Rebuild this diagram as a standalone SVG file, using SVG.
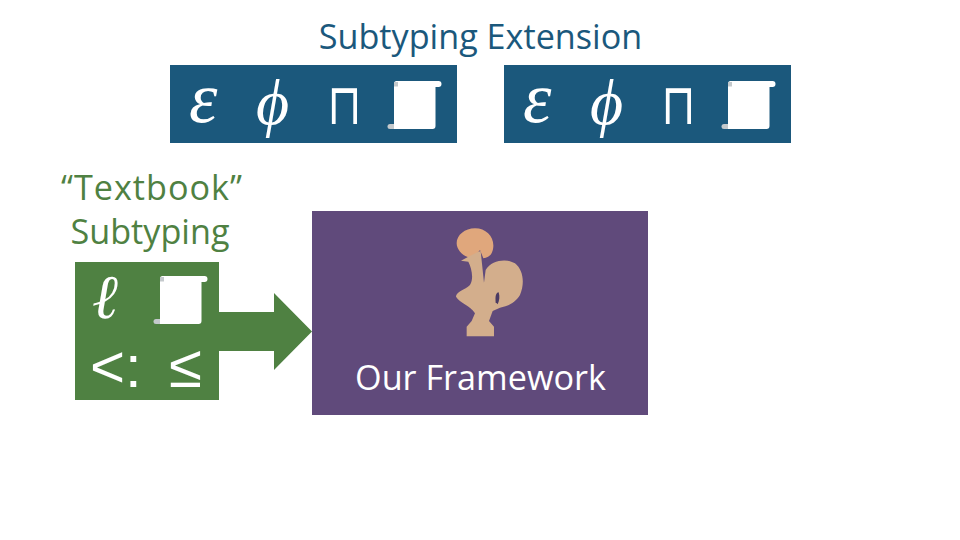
<svg xmlns="http://www.w3.org/2000/svg" width="960" height="540" viewBox="0 0 960 540">
<style>
text{font-family:"Open Sans","Noto Sans","Liberation Sans",sans-serif}
.lbl{font-size:34.200px}
.g{font-family:"Liberation Sans",Arial,sans-serif;fill:#fff}
.gs{font-family:"Liberation Serif","DejaVu Serif",serif;fill:#fff;font-style:italic}
.pi{font-family:"DejaVu Sans",sans-serif;fill:#fff}
</style>
<defs>
<filter id="soft" x="-5%" y="-5%" width="110%" height="110%"><feGaussianBlur stdDeviation="0.500"/></filter>
<g id="scroll">
<path d="M0 2.500Q0 0 2.500 0H44.500Q47.500 0 47.500 3T44.500 6H41.500V45Q41.500 48 38.500 48H0Z" fill="#fff"/>
<path d="M0 1H4V5.500H0Z" fill="#c4c9cc"/>
<path d="M0 43V48H-4Q-6.500 48 -6.500 45.500T-4 43Z" fill="#c4c9cc"/>
</g>
</defs>
<rect width="960" height="540" fill="#fff"/>
<g id="connectors">
<path d="M219 312H274V293L312 331.500L274 370V351H219Z" fill="#4f8142"/>
</g>
<text id="title" class="lbl" x="480.500" y="49" text-anchor="middle" fill="#1b587c">Subtyping Extension</text>
<g id="ext-1">
<rect x="170" y="65" width="287" height="78" fill="#1b587c"/>
<text class="gs" x="189" y="122" font-size="72">ε</text>
<text class="gs" x="256" y="124" font-size="64">ϕ</text>
<text class="pi" transform="translate(344.500 124) scale(1 1.300)" font-size="44" text-anchor="middle">⊓</text>
<use href="#scroll" x="394" y="81"/>
</g>
<g id="ext-2">
<rect x="504" y="65" width="287" height="78" fill="#1b587c"/>
<text class="gs" x="523" y="122" font-size="72">ε</text>
<text class="gs" x="590" y="124" font-size="64">ϕ</text>
<text class="pi" transform="translate(678.500 124) scale(1 1.300)" font-size="44" text-anchor="middle">⊓</text>
<use href="#scroll" x="728" y="81"/>
</g>
<g id="textbook">
<text class="lbl" x="152" y="200" text-anchor="middle" fill="#4f8142" letter-spacing="1">“Textbook”</text>
<text class="lbl" x="150" y="244" text-anchor="middle" fill="#4f8142">Subtyping</text>
<rect x="75" y="262" width="144" height="138" fill="#4f8142"/>
<text class="gs" x="92" y="318" font-size="62">ℓ</text>
<use href="#scroll" x="160" y="276"/>
<text class="g" x="90" y="387" font-size="60">&lt;:</text>
<text class="g" x="169" y="387" font-size="60">≤</text>
</g>
<g id="framework">
<rect x="312" y="211" width="336" height="204" fill="#604a7b"/>
<g transform="translate(420 215) scale(.3333)" filter="url(#soft)">
<path d="M165 40C198 40 222 65 220 95C218 120 205 128 190 130L180 105L172 115L150 128C130 125 110 105 110 85C110 60 135 40 165 40Z" fill="#e0a77c"/>
<path d="M123 137L145 125L172 112L182 108L192 203L197 165C215 135 260 130 285 145C310 165 315 205 300 240C285 265 260 275 240 278L218 288L207 318L222 335V364H140V335L155 318L165 295C150 270 120 265 108 245C108 230 135 225 150 210C162 190 155 160 145 140Z" fill="#d3ae8c"/>
<path d="M227 262C225 245 228 232 236 232C240 245 238 258 233 268Z" fill="#4b3a63"/>
</g>
<text class="lbl" x="480.500" y="390" text-anchor="middle" fill="#fff">Our Framework</text>
</g>
</svg>
